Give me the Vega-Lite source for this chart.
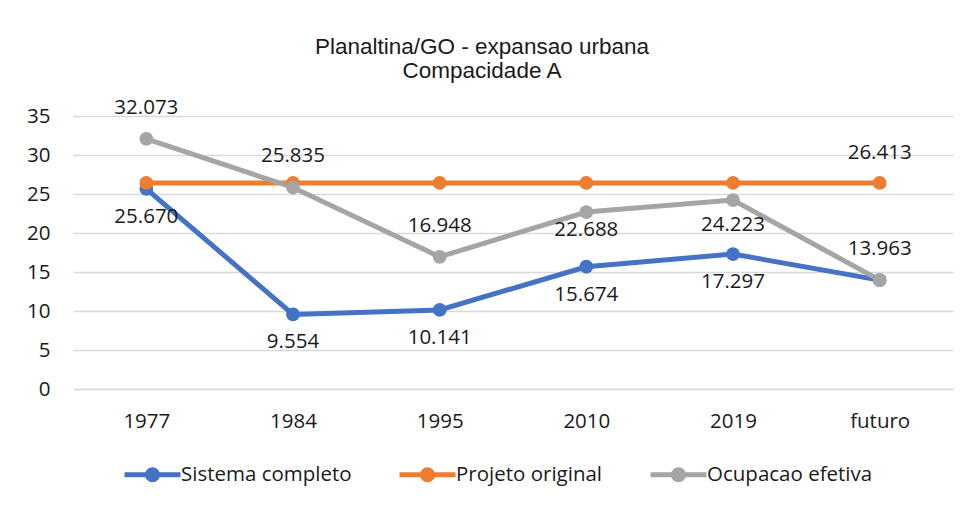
{
  "$schema": "https://vega.github.io/schema/vega-lite/v6.json",
  "autosize": {"type": "none"},
  "padding": {"left": 73, "top": 116, "right": 15, "bottom": 117},
  "width": 880,
  "height": 273,
  "background": "white",
  "title": {
    "text": ["Planaltina/GO - expansao urbana", "Compacidade A"],
    "font": "Liberation Sans",
    "fontSize": 22.5,
    "fontWeight": "normal",
    "color": "#1a1a1a",
    "lineHeight": 24,
    "anchor": "middle",
    "frame": "group",
    "dx": -31,
    "offset": 15
  },
  "config": {
    "view": {"stroke": null},
    "font": "Open Sans",
    "axis": {
      "labelFont": "Open Sans",
      "labelFontSize": 20.5,
      "labelColor": "#1a1a1a",
      "gridColor": "#D9D9D9",
      "gridWidth": 1.5,
      "ticks": false,
      "title": null
    }
  },
  "data": {
    "values": [
      {"ano": "1977", "serie": "Sistema completo", "valor": 25.670},
      {"ano": "1984", "serie": "Sistema completo", "valor": 9.554},
      {"ano": "1995", "serie": "Sistema completo", "valor": 10.141},
      {"ano": "2010", "serie": "Sistema completo", "valor": 15.674},
      {"ano": "2019", "serie": "Sistema completo", "valor": 17.297},
      {"ano": "futuro", "serie": "Sistema completo", "valor": 13.963},
      {"ano": "1977", "serie": "Projeto original", "valor": 26.413},
      {"ano": "1984", "serie": "Projeto original", "valor": 26.413},
      {"ano": "1995", "serie": "Projeto original", "valor": 26.413},
      {"ano": "2010", "serie": "Projeto original", "valor": 26.413},
      {"ano": "2019", "serie": "Projeto original", "valor": 26.413},
      {"ano": "futuro", "serie": "Projeto original", "valor": 26.413},
      {"ano": "1977", "serie": "Ocupacao efetiva", "valor": 32.073},
      {"ano": "1984", "serie": "Ocupacao efetiva", "valor": 25.835},
      {"ano": "1995", "serie": "Ocupacao efetiva", "valor": 16.948},
      {"ano": "2010", "serie": "Ocupacao efetiva", "valor": 22.688},
      {"ano": "2019", "serie": "Ocupacao efetiva", "valor": 24.223},
      {"ano": "futuro", "serie": "Ocupacao efetiva", "valor": 13.963}
    ]
  },
  "encoding": {
    "x": {
      "field": "ano",
      "type": "ordinal",
      "sort": ["1977", "1984", "1995", "2010", "2019", "futuro"],
      "scale": {"type": "point", "padding": 0.5},
      "axis": {"labelAngle": 0, "domain": true, "domainColor": "#D9D9D9", "domainWidth": 1.5, "grid": false, "labelPadding": 22}
    },
    "y": {
      "field": "valor",
      "type": "quantitative",
      "scale": {"domain": [0, 35], "nice": false},
      "axis": {"values": [0, 5, 10, 15, 20, 25, 30, 35], "domain": false, "grid": true, "labelPadding": 23}
    }
  },
  "layer": [
    {
      "mark": {"type": "line", "strokeWidth": 5, "point": {"filled": true, "size": 190, "opacity": 1}},
      "encoding": {
        "color": {
          "field": "serie",
          "type": "nominal",
          "scale": {
            "domain": ["Sistema completo", "Projeto original", "Ocupacao efetiva"],
            "range": ["#4472C4", "#ED7D31", "#A5A5A5"]
          },
          "legend": {
            "title": null,
            "orient": "none",
            "legendX": 49,
            "legendY": 328,
            "direction": "horizontal",
            "columns": 3,
            "columnPadding": 37,
            "labelOffset": -2,
            "labelLimit": 400,
            "labelFont": "Open Sans",
            "labelFontSize": 20.5,
            "labelColor": "#1a1a1a",
            "symbolType": "M-1,0H1M-0.18,0A0.18,0.18 0 1,1 0.18,0A0.18,0.18 0 1,1 -0.18,0Z",
            "symbolSize": 3136,
            "symbolStrokeWidth": 5,
            "symbolOpacity": 1,
            "padding": 0
          }
        }
      }
    },
    {
      "transform": [{"filter": "datum.serie == 'Ocupacao efetiva' && datum.ano != '2010' && datum.ano != '2019'"}],
      "mark": {"type": "text", "dy": -31, "font": "Open Sans", "fontSize": 20.5, "color": "#1a1a1a"},
      "encoding": {"text": {"field": "valor", "type": "quantitative", "format": ".3f"}}
    },
    {
      "transform": [{"filter": "datum.serie == 'Ocupacao efetiva' && datum.ano == '2010'"}],
      "mark": {"type": "text", "dy": 18, "font": "Open Sans", "fontSize": 20.5, "color": "#1a1a1a"},
      "encoding": {"text": {"field": "valor", "type": "quantitative", "format": ".3f"}}
    },
    {
      "transform": [{"filter": "datum.serie == 'Ocupacao efetiva' && datum.ano == '2019'"}],
      "mark": {"type": "text", "dy": 25, "font": "Open Sans", "fontSize": 20.5, "color": "#1a1a1a"},
      "encoding": {"text": {"field": "valor", "type": "quantitative", "format": ".3f"}}
    },
    {
      "transform": [{"filter": "datum.serie == 'Sistema completo' && datum.ano != 'futuro'"}],
      "mark": {"type": "text", "dy": 28, "font": "Open Sans", "fontSize": 20.5, "color": "#1a1a1a"},
      "encoding": {"text": {"field": "valor", "type": "quantitative", "format": ".3f"}}
    },
    {
      "transform": [{"filter": "datum.serie == 'Projeto original' && datum.ano == 'futuro'"}],
      "mark": {"type": "text", "dy": -30, "font": "Open Sans", "fontSize": 20.5, "color": "#1a1a1a"},
      "encoding": {"text": {"field": "valor", "type": "quantitative", "format": ".3f"}}
    }
  ]
}
